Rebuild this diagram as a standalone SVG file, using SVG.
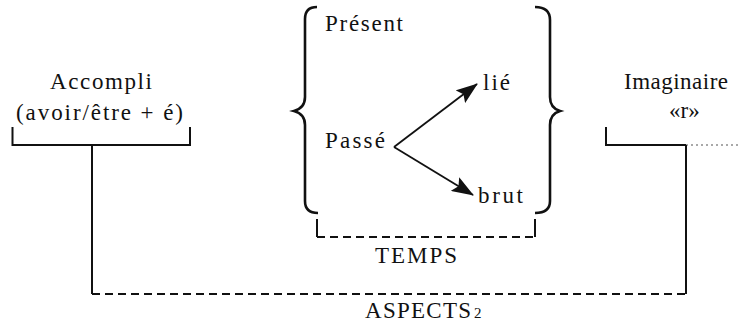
<svg xmlns="http://www.w3.org/2000/svg" width="741" height="324" viewBox="0 0 741 324">
<style>
text{font-family:"Liberation Serif","Times New Roman",serif;font-size:23px;fill:#111}
.s{fill:none;stroke:#111;stroke-width:2}
.d{fill:none;stroke:#111;stroke-width:1.8;stroke-dasharray:8 5}
.b{fill:none;stroke:#111;stroke-width:2.6;stroke-linecap:butt}
.a{fill:none;stroke:#111;stroke-width:1.8}
</style>
<defs>
<marker id="ah" markerUnits="userSpaceOnUse" markerWidth="22" markerHeight="16" refX="21" refY="8" orient="auto">
<path d="M0,0 L22,8 L0,16 L4,8 Z" fill="#111"/>
</marker>
</defs>
<rect width="741" height="324" fill="#fff"/>
<g id="accompli">
<text x="50" y="89" textLength="102">Accompli</text>
<text x="16" y="120" textLength="167">(avoir/être + é)</text>
<path class="s" d="M12.5,127 V145 H190 V127"/>
</g>
<g id="imaginaire">
<text x="624" y="89" textLength="104">Imaginaire</text>
<text x="669" y="118">«r»</text>
<path class="s" d="M606,127 V145 H686"/>
<path d="M686,145 H741" fill="none" stroke="#555" stroke-width="1.2" stroke-dasharray="2 3"/>
</g>
<g id="temps">
<path class="b" d="M317,7 Q305,7 305,19 L305,97 Q305,108 294,111 Q305,114 305,125 L305,201 Q305,213 318,213"/>
<path class="b" d="M535,7 Q550,7 550,20 L550,97 Q550,108 560,111 Q550,114 550,125 L550,201 Q550,213 535,213"/>
<text x="325" y="31" textLength="78">Présent</text>
<text x="483" y="90" textLength="27">lié</text>
<text x="325" y="148" textLength="60">Passé</text>
<text x="478" y="203" textLength="45">brut</text>
</g>
<g id="temps-label">
<text x="375" y="263" textLength="82">TEMPS</text>
</g>
<g id="aspects-label">
<text x="365" y="318" textLength="106">ASPECTS</text>
<text x="474" y="318" style="font-size:15px">2</text>
</g>
<g id="connectors">
<path class="a" d="M394,147 L477,84" marker-end="url(#ah)"/>
<path class="a" d="M394,147 L473,195" marker-end="url(#ah)"/>
<path class="s" d="M317,219 V237"/>
<path class="s" d="M535,219 V237"/>
<path class="d" d="M317,237 H535"/>
<path class="s" d="M92,145 V294"/>
<path class="s" d="M686,145 V294"/>
<path class="d" d="M92,294 H686"/>
</g>
</svg>
